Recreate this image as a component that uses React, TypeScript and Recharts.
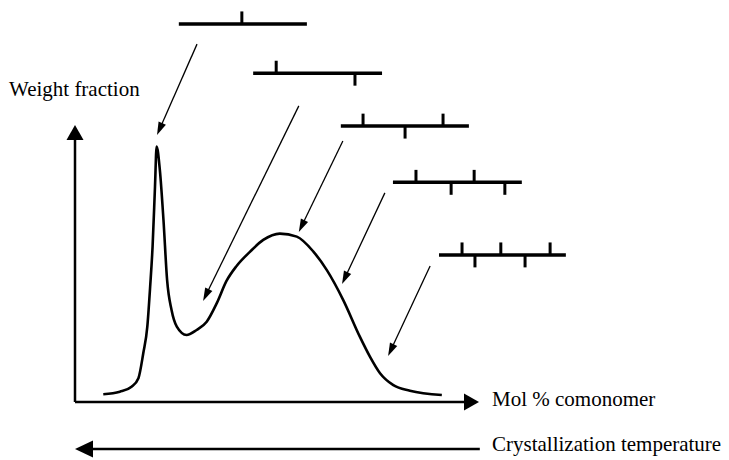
import { ComposedChart, Line, XAxis, YAxis, ReferenceLine } from "recharts";

// distribution curve (arbitrary units, 0-100 on both axes)
const comonomer = [
  7.0, 11.1, 14.0, 15.7, 16.9, 17.9, 18.6, 19.2, 19.8, 20.2, 21.0, 21.9, 22.8, 23.9, 25.2, 27.6,
  30.1, 32.6, 35.1, 37.5, 40.0, 43.3, 46.6, 50.7, 54.9, 59.0, 62.3, 66.4, 70.5, 73.0, 75.5, 78.8, 82.9, 90.8,
];
const weightFraction = [
  2.8, 3.7, 5.5, 8.6, 17.6, 27.2, 41.6, 56.0, 77.7, 92.2, 83.8, 65.7, 44.0, 33.2, 27.2, 24.2,
  26.0, 29.0, 35.7, 43.7, 49.1, 54.2, 58.5, 60.8, 59.7, 54.3, 47.7, 36.8, 23.6, 16.4, 10.4, 6.1, 4.1, 2.5,
];

// molecule sketches: backbone + short branches (alternating up / down)
const chainY = [136.5, 118.7, 99.6, 79.3, 53.1];
const chainStart = [25.7, 44.1, 65.8, 78.7, 90.1];
const chainEnd = [57.4, 76.0, 97.5, 110.6, 121.5];
const branchX = [
  [41.3],
  [49.8, 69.3],
  [71.3, 81.7, 91.1],
  [84.4, 93.1, 98.8, 106.4],
  [95.8, 99.0, 105.4, 111.4, 117.6],
];
const BRANCH = 4.5;

// pointer arrows from each molecule to the curve
const pointerFrom = [
  [30.2, 129.2],
  [55.4, 106.9],
  [66.3, 94.2],
  [76.7, 75.5],
  [87.9, 49.1],
];
const pointerTo = [
  [20.3, 96.4],
  [31.7, 36.5],
  [55.4, 61.4],
  [66.1, 42.6],
  [77.5, 16.6],
];

const curve = comonomer.map((x, i) => ({ x, y: weightFraction[i] }));

const arrow = (len: number, half: number, width: number) => (p: any) => {
  const { x1, y1, x2, y2 } = p;
  const dx = x2 - x1;
  const dy = y2 - y1;
  const d = Math.hypot(dx, dy) || 1;
  const ux = dx / d;
  const uy = dy / d;
  const bx = x2 - ux * len;
  const by = y2 - uy * len;
  const pts = `${x2},${y2} ${bx - uy * half},${by + ux * half} ${bx + uy * half},${by - ux * half}`;
  return (
    <g>
      <line x1={x1} y1={y1} x2={bx + ux * 2} y2={by + uy * 2} stroke="#000" strokeWidth={width} />
      <polygon points={pts} fill="#000" />
    </g>
  );
};

const label = {
  position: "absolute" as const,
  fontSize: 21,
  lineHeight: "21px",
  color: "#000",
  whiteSpace: "nowrap" as const,
  fontFamily: "'Liberation Serif', 'Times New Roman', Times, serif",
};

export default function App() {
  return (
    <div style={{ position: "absolute", left: 0, top: 0, width: 729, height: 460, background: "#fff", overflow: "hidden" }}>
      <ComposedChart width={729} height={460} data={curve} margin={{ top: 125, left: 75, right: 250, bottom: 58 }}>
        <XAxis type="number" dataKey="x" domain={[0, 100]} allowDataOverflow hide />
        <YAxis type="number" domain={[0, 100]} allowDataOverflow hide />

        {/* axes */}
        <ReferenceLine segment={[{ x: 0, y: 0 }, { x: 100, y: 0 }]} ifOverflow="visible" shape={arrow(15, 8.5, 2.5)} />
        <ReferenceLine segment={[{ x: 0, y: 0 }, { x: 0, y: 100 }]} ifOverflow="visible" shape={arrow(15, 8.5, 2.5)} />
        <ReferenceLine segment={[{ x: 100.2, y: -17.0 }, { x: 0, y: -17.0 }]} ifOverflow="visible" shape={arrow(18, 8.5, 2.5)} />

        {/* molecules */}
        {chainY.map((y, i) => (
          <ReferenceLine key={`c${i}`} segment={[{ x: chainStart[i], y }, { x: chainEnd[i], y }]} ifOverflow="visible" stroke="#000" strokeWidth={3.5} />
        ))}
        {branchX.map((xs, i) =>
          xs.map((bx, j) => (
            <ReferenceLine
              key={`b${i}-${j}`}
              segment={[{ x: bx, y: chainY[i] }, { x: bx, y: chainY[i] + (j % 2 === 0 ? BRANCH : -BRANCH) }]}
              ifOverflow="visible"
              stroke="#000"
              strokeWidth={3}
            />
          ))
        )}

        {/* pointers */}
        {pointerFrom.map((f, i) => (
          <ReferenceLine
            key={`p${i}`}
            segment={[{ x: f[0], y: f[1] }, { x: pointerTo[i][0], y: pointerTo[i][1] }]}
            ifOverflow="visible"
            shape={arrow(13, 4, 1.3)}
          />
        ))}

        <Line type="monotone" dataKey="y" stroke="#000" strokeWidth={2.6} dot={false} isAnimationActive={false} />
      </ComposedChart>

      <div style={{ ...label, left: 9, top: 79 }}>Weight fraction</div>
      <div style={{ ...label, left: 492, top: 389 }}>Mol % comonomer</div>
      <div style={{ ...label, left: 492, top: 434 }}>Crystallization temperature</div>
    </div>
  );
}
